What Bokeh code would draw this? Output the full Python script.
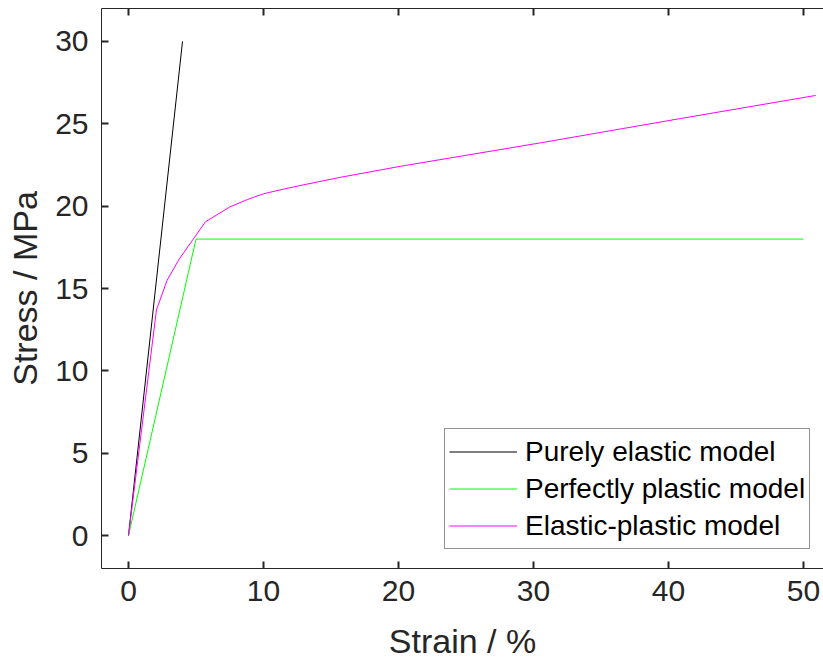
from bokeh.plotting import figure
from bokeh.models import LinearAxis, FixedTicker, Legend, LegendItem, Range1d
from bokeh.embed import file_html
from bokeh.resources import INLINE

# Stress-strain curves for three material models (strain in %, stress in MPa)
elastic_strain = [0, 4]
elastic_stress = [0, 30]

plastic_strain = [0, 5, 50]
plastic_stress = [0, 18, 18]

ep_strain = [0, 2.07, 2.86, 3.73, 5.7, 7.5, 8.8, 10.0, 11.3, 13.0, 15.7, 20.15, 30.5, 40.9, 50.9]
ep_stress = [0, 13.7, 15.5, 16.75, 19.05, 19.95, 20.4, 20.75, 21.0, 21.3, 21.75, 22.42, 23.84, 25.32, 26.72]

x_ticks = [0, 10, 20, 30, 40, 50]
y_ticks = [0, 5, 10, 15, 20, 25, 30]

labels = ["Purely elastic model", "Perfectly plastic model", "Elastic-plastic model"]
colors = ["#000000", "#00ff00", "#ff00ff"]

FONT = "Liberation Sans"
AX_COLOR = "#262626"

p = figure(
    frame_width=722, frame_height=560,
    x_range=Range1d(-2, 51.48), y_range=Range1d(-2, 32),
    output_backend="svg", toolbar_location=None,
    min_border_left=101, min_border_right=0, min_border_top=8, min_border_bottom=92,
    background_fill_color="white", border_fill_color="white",
)
p.outline_line_color = None
p.xgrid.visible = False
p.ygrid.visible = False

r1 = p.line(elastic_strain, elastic_stress, line_color=colors[0], line_width=1)
r2 = p.line(plastic_strain, plastic_stress, line_color=colors[1], line_width=1)
r3 = p.line(ep_strain, ep_stress, line_color=colors[2], line_width=1)


def style_axis(ax, ticks):
    ax.ticker = FixedTicker(ticks=ticks)
    ax.major_tick_in = 7
    ax.major_tick_out = 0
    ax.minor_tick_in = 0
    ax.minor_tick_out = 0
    ax.major_tick_line_width = 2
    ax.major_tick_line_color = AX_COLOR
    ax.axis_line_color = AX_COLOR
    ax.axis_line_width = 1
    ax.major_label_text_font = FONT
    ax.major_label_text_font_size = "30px"
    ax.major_label_text_color = AX_COLOR
    ax.axis_label_text_font = FONT
    ax.axis_label_text_font_size = "34px"
    ax.axis_label_text_font_style = "normal"
    ax.axis_label_text_color = AX_COLOR


xa = p.xaxis[0]
style_axis(xa, x_ticks)
xa.axis_label = "Strain / %"
xa.major_label_standoff = 12
xa.axis_label_standoff = 18

ya = p.yaxis[0]
style_axis(ya, y_ticks)
ya.axis_label = "Stress / MPa"
ya.major_label_standoff = 13
ya.axis_label_standoff = 8

# box edge along the top with inward ticks, no labels
top = LinearAxis()
style_axis(top, x_ticks)
top.major_label_text_font_size = "1px"
top.major_label_text_color = None
top.major_label_standoff = 0
p.add_layout(top, "above")

legend = Legend(
    items=[LegendItem(label=labels[0], renderers=[r1]),
           LegendItem(label=labels[1], renderers=[r2]),
           LegendItem(label=labels[2], renderers=[r3])],
    location=(343, 19),
    padding=4, margin=0, spacing=0,
    label_height=37, glyph_height=37, glyph_width=68, label_standoff=8,
    label_text_font=FONT, label_text_font_size="28px", label_text_color="#000000",
    border_line_color=AX_COLOR, border_line_width=1,
    background_fill_color="white", background_fill_alpha=1.0,
)
p.add_layout(legend, "center")

open("out.html", "w").write(file_html(p, INLINE))
